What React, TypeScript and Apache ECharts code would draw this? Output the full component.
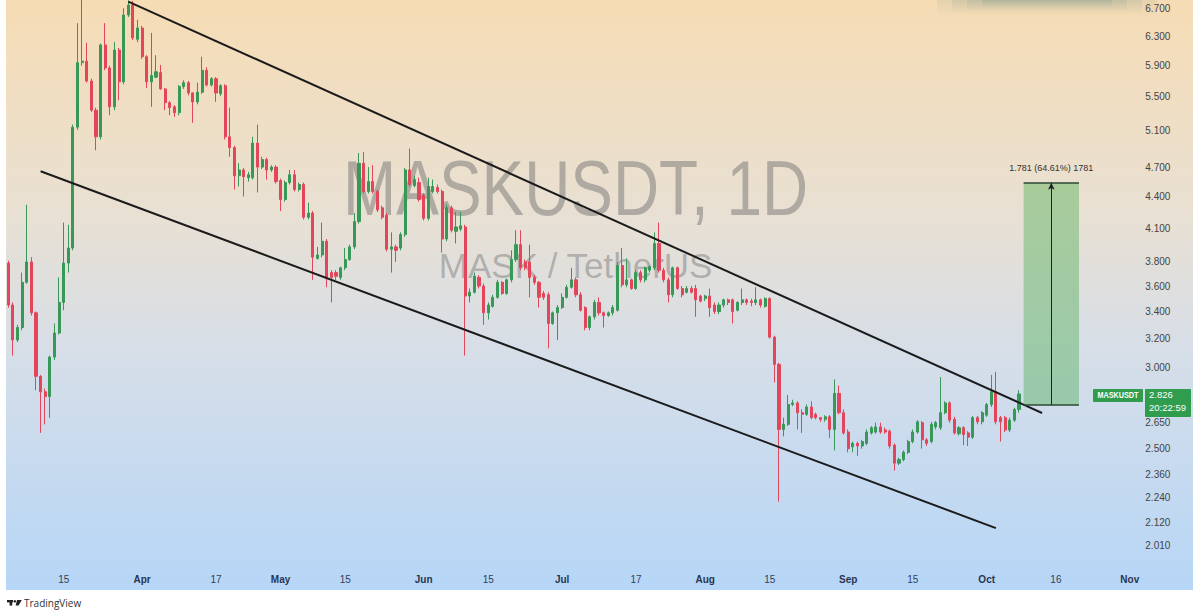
import React, { useEffect, useRef } from "react";
import * as echarts from "echarts";

// ---------- data ----------
const startDate = "2023-03-03";
const categoryCount = 246;

// [open, close, low, high]
const marchCandles = [
  [3.79, 3.45, 3.43, 3.81], [3.45, 3.19, 3.08, 3.47], [3.19, 3.28, 3.175, 3.3], [3.28, 3.63, 3.26, 3.71],
  [3.63, 3.8, 3.62, 4.32], [3.8, 3.39, 3.37, 3.84], [3.39, 2.94, 2.85, 3.4], [2.94, 2.84, 2.59, 2.95],
  [2.84, 2.81, 2.64, 2.86], [2.81, 3.07, 2.68, 3.08], [3.07, 3.24, 3.05, 3.31], [3.24, 3.47, 3.23, 3.67],
  [3.47, 3.79, 3.41, 4.15], [3.79, 3.92, 3.71, 4.13], [3.92, 5.14, 3.9, 5.17], [5.14, 5.94, 5.11, 6.49],
  [5.94, 5.96, 5.9, 6.84], [5.96, 5.7, 5.68, 6.21], [5.7, 5.34, 5.32, 5.73], [5.34, 5.03, 4.88, 5.37],
  [5.03, 6.18, 5.0, 6.2], [6.18, 5.87, 5.84, 6.49], [5.87, 5.38, 5.28, 5.9], [5.38, 6.11, 5.34, 6.22],
  [6.11, 5.69, 5.46, 6.14], [5.69, 6.61, 5.66, 6.71], [6.61, 6.76, 6.58, 6.83], [6.76, 6.28, 6.25, 6.82],
  [6.26, 6.42, 6.22, 6.54],
];
const aprilCandles = [
  [6.42, 6.02, 5.99, 6.45], [6.02, 5.69, 5.61, 6.04], [5.69, 5.77, 5.38, 6.35], [5.75, 5.82, 5.74, 6.04],
  [5.81, 5.6, 5.59, 5.91], [5.6, 5.43, 5.34, 5.61], [5.43, 5.37, 5.28, 5.45], [5.38, 5.31, 5.26, 5.4],
  [5.31, 5.63, 5.28, 5.65], [5.63, 5.68, 5.6, 5.71], [5.68, 5.55, 5.52, 5.7], [5.55, 5.44, 5.19, 5.56],
  [5.44, 5.56, 5.41, 5.68], [5.56, 5.84, 5.54, 6.02], [5.84, 5.65, 5.63, 5.88], [5.65, 5.73, 5.63, 5.75],
  [5.73, 5.55, 5.44, 5.75], [5.54, 5.64, 5.51, 5.66], [5.64, 5.03, 5.0, 5.66], [5.03, 4.91, 4.81, 5.37],
  [4.91, 4.61, 4.47, 4.93], [4.61, 4.67, 4.5, 4.74], [4.67, 4.6, 4.4, 4.69], [4.59, 4.62, 4.55, 4.65],
  [4.59, 4.96, 4.57, 5.03], [4.96, 4.7, 4.44, 5.17], [4.7, 4.78, 4.68, 4.81], [4.78, 4.67, 4.57, 4.8],
  [4.67, 4.7, 4.65, 4.72], [4.7, 4.55, 4.53, 4.72],
];
const mayCandles = [
  [4.56, 4.37, 4.26, 4.58], [4.37, 4.54, 4.35, 4.56], [4.54, 4.62, 4.52, 4.67], [4.62, 4.47, 4.45, 4.67],
  [4.47, 4.52, 4.45, 4.54], [4.52, 4.2, 4.18, 4.54], [4.2, 4.24, 4.18, 4.34], [4.24, 3.84, 3.65, 4.26],
  [3.83, 3.86, 3.82, 3.93], [3.86, 3.98, 3.84, 4.15], [3.98, 3.67, 3.59, 4.0], [3.71, 3.67, 3.47, 3.73],
  [3.71, 3.68, 3.65, 3.73], [3.67, 3.75, 3.65, 3.76], [3.75, 3.82, 3.73, 3.92], [3.82, 3.93, 3.81, 3.95],
  [3.93, 4.16, 3.91, 4.24], [4.16, 4.74, 4.14, 4.85], [4.74, 4.45, 4.43, 4.86], [4.45, 4.55, 4.43, 4.7],
  [4.55, 4.45, 4.43, 4.72], [4.45, 4.27, 4.25, 4.47], [4.29, 4.2, 4.18, 4.31], [4.22, 3.91, 3.89, 4.24],
  [3.91, 3.93, 3.71, 4.06], [3.93, 3.9, 3.8, 3.95], [3.92, 4.04, 3.9, 4.06], [4.04, 4.67, 4.02, 4.69],
  [4.67, 4.52, 4.5, 4.9], [4.51, 4.57, 4.49, 4.61], [4.54, 4.37, 4.35, 4.59],
];
const juneCandles = [
  [4.41, 4.19, 4.17, 4.43], [4.19, 4.5, 4.17, 4.59], [4.45, 4.5, 4.43, 4.57], [4.49, 4.45, 4.43, 4.52],
  [4.45, 4.0, 3.88, 4.47], [4.0, 4.29, 3.98, 4.32], [4.29, 4.08, 4.06, 4.31], [4.07, 4.11, 3.96, 4.25],
  [4.09, 4.12, 4.07, 4.25], [4.11, 3.52, 3.08, 4.13], [3.52, 3.55, 3.47, 3.58], [3.55, 3.68, 3.54, 3.71],
  [3.67, 3.6, 3.58, 3.69], [3.6, 3.39, 3.3, 3.62], [3.39, 3.45, 3.34, 3.47], [3.44, 3.51, 3.43, 3.53],
  [3.51, 3.63, 3.5, 3.65], [3.63, 3.54, 3.53, 3.64], [3.54, 3.65, 3.53, 3.66], [3.65, 3.82, 3.63, 3.9],
  [3.82, 3.95, 3.8, 4.08], [3.95, 3.75, 3.73, 4.08], [3.8, 3.75, 3.73, 3.82], [3.8, 3.67, 3.51, 3.95],
  [3.67, 3.63, 3.61, 3.69], [3.63, 3.51, 3.43, 3.64], [3.54, 3.51, 3.49, 3.56], [3.53, 3.31, 3.13, 3.55],
  [3.31, 3.39, 3.3, 3.4], [3.39, 3.43, 3.19, 3.45],
];
const julyCandles = [
  [3.43, 3.51, 3.42, 3.54], [3.51, 3.59, 3.5, 3.61], [3.59, 3.65, 3.58, 3.75], [3.65, 3.53, 3.51, 3.67],
  [3.53, 3.41, 3.4, 3.55], [3.43, 3.28, 3.26, 3.44], [3.28, 3.36, 3.26, 3.37], [3.36, 3.47, 3.34, 3.49],
  [3.47, 3.39, 3.37, 3.51], [3.39, 3.37, 3.28, 3.4], [3.37, 3.39, 3.36, 3.4], [3.39, 3.43, 3.37, 3.45],
  [3.41, 3.77, 3.4, 3.8], [3.77, 3.61, 3.59, 3.92], [3.61, 3.65, 3.59, 3.83], [3.65, 3.58, 3.57, 3.66],
  [3.58, 3.71, 3.57, 3.73], [3.71, 3.65, 3.63, 3.73], [3.65, 3.75, 3.63, 3.76], [3.73, 3.76, 3.71, 3.77],
  [3.75, 3.96, 3.73, 4.06], [3.96, 3.73, 3.71, 4.15], [3.73, 3.65, 3.63, 3.75], [3.65, 3.53, 3.47, 3.67],
  [3.53, 3.75, 3.51, 3.76], [3.75, 3.58, 3.57, 3.76], [3.58, 3.53, 3.51, 3.6], [3.55, 3.58, 3.54, 3.6],
  [3.58, 3.55, 3.54, 3.6], [3.58, 3.49, 3.36, 3.61], [3.52, 3.48, 3.47, 3.53],
];
const augustCandles = [
  [3.5, 3.52, 3.48, 3.53], [3.52, 3.43, 3.36, 3.58], [3.45, 3.4, 3.38, 3.47], [3.4, 3.45, 3.38, 3.47],
  [3.45, 3.49, 3.43, 3.5], [3.49, 3.47, 3.45, 3.5], [3.49, 3.4, 3.31, 3.5], [3.41, 3.47, 3.4, 3.48],
  [3.47, 3.49, 3.45, 3.58], [3.49, 3.47, 3.45, 3.5], [3.48, 3.47, 3.44, 3.5], [3.47, 3.49, 3.45, 3.59],
  [3.49, 3.45, 3.43, 3.5], [3.44, 3.5, 3.43, 3.51], [3.5, 3.21, 3.2, 3.51], [3.21, 3.02, 2.9, 3.22],
  [3.02, 2.61, 2.22, 3.03], [2.61, 2.64, 2.57, 2.68], [2.64, 2.76, 2.63, 2.82], [2.76, 2.77, 2.75, 2.79],
  [2.77, 2.71, 2.61, 2.78], [2.71, 2.7, 2.59, 2.73], [2.7, 2.745, 2.69, 2.76], [2.745, 2.68, 2.67, 2.78],
  [2.7, 2.68, 2.67, 2.71], [2.68, 2.67, 2.655, 2.685], [2.67, 2.685, 2.655, 2.695], [2.685, 2.61, 2.56, 2.695],
  [2.61, 2.83, 2.49, 2.92], [2.83, 2.71, 2.7, 2.88], [2.71, 2.59, 2.58, 2.73],
];
const septemberCandles = [
  [2.595, 2.5, 2.48, 2.61], [2.51, 2.53, 2.48, 2.54], [2.53, 2.515, 2.46, 2.54], [2.515, 2.54, 2.5, 2.55],
  [2.53, 2.595, 2.52, 2.61], [2.59, 2.62, 2.58, 2.63], [2.595, 2.625, 2.585, 2.65], [2.625, 2.595, 2.585, 2.65],
  [2.607, 2.595, 2.585, 2.62], [2.6, 2.515, 2.5, 2.61], [2.52, 2.42, 2.38, 2.53], [2.42, 2.44, 2.41, 2.45],
  [2.44, 2.48, 2.43, 2.49], [2.48, 2.54, 2.47, 2.55], [2.54, 2.595, 2.53, 2.61], [2.595, 2.655, 2.585, 2.665],
  [2.65, 2.55, 2.5, 2.66], [2.55, 2.53, 2.515, 2.56], [2.54, 2.64, 2.53, 2.655], [2.625, 2.65, 2.61, 2.66],
  [2.62, 2.71, 2.607, 2.935], [2.71, 2.77, 2.7, 2.78], [2.77, 2.665, 2.65, 2.78], [2.67, 2.59, 2.58, 2.685],
  [2.585, 2.62, 2.575, 2.63], [2.62, 2.58, 2.52, 2.63], [2.59, 2.565, 2.515, 2.6], [2.565, 2.68, 2.555, 2.69],
  [2.68, 2.655, 2.64, 2.69], [2.655, 2.71, 2.64, 2.72],
];
const octoberCandles = [
  [2.695, 2.76, 2.685, 2.77], [2.76, 2.84, 2.745, 2.95], [2.84, 2.655, 2.64, 2.97], [2.68, 2.655, 2.54, 2.69],
  [2.68, 2.607, 2.595, 2.69], [2.607, 2.665, 2.595, 2.68], [2.665, 2.73, 2.655, 2.74], [2.73, 2.826, 2.71, 2.85],
];

// price-scale labels visible in the reference (2.800 is hidden behind the last-price tag)
const yTickLabels = [2.01, 2.12, 2.24, 2.36, 2.5, 2.65, 3.0, 3.2, 3.4, 3.6, 3.8, 4.1, 4.4, 4.7, 5.1, 5.5, 5.9, 6.3, 6.7];
const xTickDates = [
  "2023-03-15", "2023-04-01", "2023-04-17", "2023-05-01", "2023-05-15", "2023-06-01", "2023-06-15", "2023-07-01",
  "2023-07-17", "2023-08-01", "2023-08-15", "2023-09-01", "2023-09-15", "2023-10-01", "2023-10-16", "2023-11-01",
];
const monthNames = ["Jan", "Feb", "Mar", "Apr", "May", "Jun", "Jul", "Aug", "Sep", "Oct", "Nov", "Dec"];
const priceMin = 1.926;
const priceMax = 6.836;

const upperTrend = [["2023-03-29", 6.812], ["2023-10-13", 2.708]];
const lowerTrend = [["2023-03-10", 4.657], ["2023-10-03", 2.092]];

const measureStart = "2023-10-09";
const measureEnd = "2023-10-21";
const measureMid = "2023-10-15";
const measureLow = 2.757;
const measureHigh = 4.538;
const measureText = "1.781 (64.61%) 1781";

const symbolName = "MASKUSDT";
const watermarkTitle = "MASKUSDT, 1D";
const watermarkSub = "MASK / TetherUS";
const countdownText = "20:22:59";

// ---------- helpers ----------
function makeDates(): string[] {
  const [y, m, d] = startDate.split("-").map(Number);
  const out: string[] = [];
  for (let i = 0; i < categoryCount; i++) {
    out.push(new Date(Date.UTC(y, m - 1, d + i)).toISOString().slice(0, 10));
  }
  return out;
}

const UP = "#379858";
const DOWN = "#e3455b";
const TAG = "#2f9c4e";

function hazeLayer(id: string, w: number, h: number, a: number) {
  return {
    id,
    type: "rect",
    z: -9,
    silent: true,
    shape: { x: 1047 - w / 2, y: 0, width: w, height: h },
    style: {
      fill: new echarts.graphic.LinearGradient(0, 0, 0, 1, [
        { offset: 0, color: `rgba(105,140,130,${a})` },
        { offset: 1, color: "rgba(105,140,130,0)" },
      ]),
    },
  };
}

export default function App() {
  const ref = useRef<HTMLDivElement>(null);

  useEffect(() => {
    document.body.style.margin = "0";
    const chart = echarts.init(ref.current!, undefined, { renderer: "svg" });
    const dates = makeDates();
    const candles = [
      ...marchCandles, ...aprilCandles, ...mayCandles, ...juneCandles,
      ...julyCandles, ...augustCandles, ...septemberCandles, ...octoberCandles,
    ];
    const candleData = candles.map((c) => [Math.log(c[0]), Math.log(c[1]), Math.log(c[2]), Math.log(c[3])]);
    const lastClose = candles[candles.length - 1][1];
    const tickSet = new Set(xTickDates);
    const bandWidth = 4.615;

    const option: any = {
      animation: false,
      backgroundColor: "transparent",
      grid: { left: 6, top: 0, width: categoryCount * bandWidth, height: 565, containLabel: false, outerBoundsMode: "none" },
      xAxis: {
        type: "category",
        data: dates,
        boundaryGap: true,
        axisLine: { show: false },
        axisTick: { show: false },
        splitLine: { show: false },
        axisLabel: {
          interval: (_i: number, v: string) => tickSet.has(v),
          formatter: (v: string) => {
            const d = new Date(v + "T00:00:00Z");
            const day = d.getUTCDate();
            if (day === 1) return `{m|${monthNames[d.getUTCMonth()]}}`;
            return String(day);
          },
          margin: 9,
          color: "#33405c",
          fontSize: 10,
          fontFamily: "Liberation Sans",
          rich: { m: { fontWeight: "bold", color: "#2a3550", fontSize: 10, fontFamily: "Liberation Sans" } },
        },
      },
      yAxis: {
        type: "value",
        position: "right",
        min: Math.log(priceMin),
        max: Math.log(priceMax),
        axisLine: { show: false },
        axisTick: { show: false },
        splitLine: { show: false },
        axisLabel: {
          customValues: yTickLabels.map((v) => Math.log(v)),
          formatter: (v: number) => Math.exp(v).toFixed(3),
          margin: 4,
          color: "#444",
          fontSize: 10,
          fontFamily: "Liberation Sans",
        },
      },
      series: [
        {
          type: "candlestick",
          data: candleData,
          barWidth: 2.6,
          z: 3,
          itemStyle: { color: UP, color0: DOWN, borderColor: UP, borderColor0: DOWN, borderWidth: 1 },
          markArea: {
            silent: true,
            itemStyle: { color: "rgba(76,175,80,0.42)" },
            label: { show: true, position: "top", distance: 10, formatter: measureText, color: "#333", fontSize: 9, fontFamily: "Liberation Sans" },
            data: [[{ coord: [measureStart, Math.log(measureHigh)] }, { coord: [measureEnd, Math.log(measureLow)] }]],
          },
          markLine: {
            silent: true,
            symbol: "none",
            label: { show: false },
            lineStyle: { color: "#2e4a33", width: 1.5, type: "solid" },
            data: [
              [{ coord: [measureStart, Math.log(measureHigh)] }, { coord: [measureEnd, Math.log(measureHigh)] }],
              [{ coord: [measureStart, Math.log(measureLow)] }, { coord: [measureEnd, Math.log(measureLow)] }],
              [
                { coord: [measureMid, Math.log(measureLow)], symbol: "none", lineStyle: { color: "#222", width: 1 } },
                { coord: [measureMid, Math.log(measureHigh)], symbol: "arrow", symbolSize: [5, 7] },
              ],
            ],
          },
        },
        {
          type: "line",
          data: upperTrend.map((p) => [p[0], Math.log(p[1] as number)]),
          symbol: "none",
          silent: true,
          z: 4,
          lineStyle: { color: "#1b1b1b", width: 2 },
        },
        {
          type: "line",
          data: lowerTrend.map((p) => [p[0], Math.log(p[1] as number)]),
          symbol: "none",
          silent: true,
          z: 4,
          lineStyle: { color: "#1b1b1b", width: 2 },
        },
      ],
    };
    chart.setOption(option);

    const py = chart.convertToPixel({ yAxisIndex: 0 }, Math.log(lastClose)) as number;
    const gridRight = 6 + categoryCount * bandWidth;

    const graphics: any[] = [
      {
        id: "bg",
        type: "rect",
        z: -10,
        silent: true,
        shape: { x: 6, y: 0, width: 1187, height: 590 },
        style: {
          fill: new echarts.graphic.LinearGradient(0, 0, 0, 1, [
            { offset: 0, color: "#f6dcb4" },
            { offset: 0.35, color: "#e9e0d2" },
            { offset: 0.6, color: "#d6dee8" },
            { offset: 1, color: "#b6d6f7" },
          ]),
        },
      },
      hazeLayer("hz1", 220, 18, 0.12),
      hazeLayer("hz2", 190, 14, 0.14),
      hazeLayer("hz3", 160, 11, 0.16),
      hazeLayer("hz4", 130, 8, 0.18),
      {
        id: "wm1",
        type: "text",
        z: -5,
        silent: true,
        x: (6 + gridRight) / 2 + 2,
        y: 188,
        scaleX: 0.83,
        style: {
          text: watermarkTitle,
          fontSize: 77,
          fontFamily: "Liberation Sans",
          fill: "rgba(115,115,115,0.5)",
          textAlign: "center",
          textVerticalAlign: "middle",
        },
      },
      {
        id: "wm2",
        type: "text",
        z: -5,
        silent: true,
        x: (6 + gridRight) / 2 + 2,
        y: 265,
        style: {
          text: watermarkSub,
          fontSize: 35,
          fontFamily: "Liberation Sans",
          fill: "rgba(115,115,115,0.45)",
          textAlign: "center",
          textVerticalAlign: "middle",
        },
      },
      // TradingView logo
      { id: "lg1", type: "rect", silent: true, shape: { x: 7, y: 600, width: 6, height: 2.4 }, style: { fill: "#222" } },
      { id: "lg2", type: "rect", silent: true, shape: { x: 9.6, y: 600, width: 2.6, height: 5.6 }, style: { fill: "#222" } },
      { id: "lg3", type: "circle", silent: true, shape: { cx: 14.8, cy: 601.3, r: 1.3 }, style: { fill: "#222" } },
      {
        id: "lg4",
        type: "polygon",
        silent: true,
        shape: { points: [[17, 600], [21.8, 600], [18.6, 605.6], [15.6, 605.6]] },
        style: { fill: "#222" },
      },
      {
        id: "lgt",
        type: "text",
        silent: true,
        x: 24,
        y: 603,
        style: { text: "TradingView", fontSize: 10, fontFamily: "Open Sans", fill: "#333", textVerticalAlign: "middle" },
      },
      // last price tag
      {
        id: "sym",
        type: "rect",
        z: 50,
        silent: true,
        shape: { x: 1093, y: py - 5, width: 50, height: 13, r: 1 },
        style: { fill: TAG },
      },
      {
        id: "symt",
        type: "text",
        z: 51,
        silent: true,
        x: 1118,
        y: py + 1.5,
        scaleX: 0.85,
        style: { text: symbolName, fontSize: 8.5, fontWeight: "bold", fontFamily: "Liberation Sans", fill: "#fff", textAlign: "center", textVerticalAlign: "middle" },
      },
      {
        id: "pbox",
        type: "rect",
        z: 50,
        silent: true,
        shape: { x: 1145, y: py - 5, width: 46, height: 28, r: 1 },
        style: { fill: TAG },
      },
      {
        id: "pbt",
        type: "text",
        z: 51,
        silent: true,
        x: 1149,
        y: py + 1,
        style: { text: lastClose.toFixed(3), fontSize: 9.5, fontFamily: "Liberation Sans", fill: "#fff", textVerticalAlign: "middle" },
      },
      {
        id: "pbc",
        type: "text",
        z: 51,
        silent: true,
        x: 1149,
        y: py + 14,
        style: { text: countdownText, fontSize: 9.5, fontFamily: "Liberation Sans", fill: "#fff", textVerticalAlign: "middle" },
      },
    ];
    chart.setOption({ graphic: graphics });

    return () => chart.dispose();
  }, []);

  return (
    <div
      ref={ref}
      style={{ position: "fixed", left: 0, top: 0, width: 1200, height: 616, background: "#fff" }}
    />
  );
}
